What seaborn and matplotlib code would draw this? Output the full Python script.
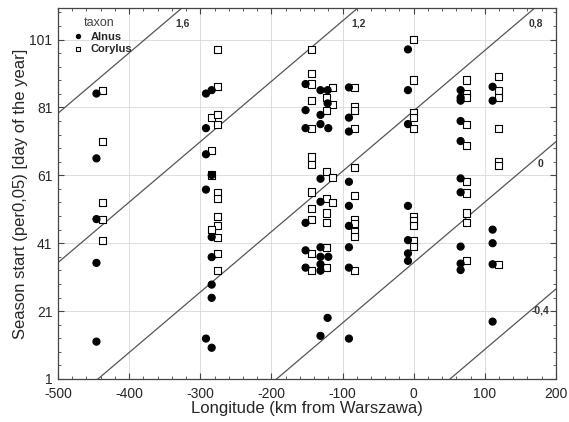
import matplotlib
matplotlib.use('Agg')
import matplotlib.pyplot as plt
from matplotlib.ticker import FixedLocator, AutoMinorLocator
import numpy as np
import pandas as pd
import seaborn as sns

# начало сезона пыления, ольха (Alnus)
alnus_x = [-446, -446, -446, -446, -446,
           -292, -284, -292, -292, -284, -292, -284, -284, -284, -284, -292, -284,
           -152, -131, -121, -121, -152, -131, -131, -120, -152, -131, -131, -152,
           -152, -131, -131, -120, -131, -152, -131, -121, -131,
           -91, -91, -91, -91, -91, -91, -91, -91, -91,
           -8, -8, -8, -8, -8, -8, -8,
           66, 66, 66, 66, 66, 66, 66, 66, 66, 66,
           111, 111, 111, 111, 111, 111]
alnus_y = [85.1, 66.0, 48.1, 35.2, 12.0,
           85.1, 86.1, 74.9, 67.2, 61.1, 56.8, 42.8, 36.9, 28.8, 24.9, 12.9, 10.2,
           87.9, 86.1, 86.1, 82.2, 80.2, 78.8, 76.1, 74.9, 74.9, 60.0, 53.2, 47.0,
           38.9, 39.8, 37.0, 37.0, 34.8, 33.8, 32.9, 19.0, 13.7,
           86.9, 78.0, 73.9, 59.1, 52.0, 46.1, 39.8, 33.8, 12.9,
           98.1, 86.1, 76.1, 52.0, 41.9, 38.0, 35.8,
           86.1, 83.9, 83.0, 77.0, 71.1, 60.1, 56.0, 40.0, 35.0, 33.1,
           87.1, 83.0, 45.0, 41.0, 34.8, 17.9]

# лещина (Corylus)
corylus_x = [-438, -438, -438, -438, -438,
             -276, -276, -284, -276, -276, -284, -284, -276, -276, -276, -276, -284,
             -276, -276, -276,
             -144, -144, -144, -114, -123, -144, -114, -123, -144, -144, -144, -123,
             -114, -144, -123, -114, -144, -123, -144, -123, -144, -123, -123, -144,
             -83, -83, -83, -83, -83, -83, -83, -83, -83, -83, -83,
             0, 0, 0, 0, 0, 0, 0, 0, 0, 0,
             74, 74, 74, 74, 74, 74, 74, 74, 74, 74,
             119, 119, 119, 119, 119, 119, 119]
corylus_y = [86.1, 71.1, 52.9, 47.9, 41.9,
             98.1, 87.1, 78.0, 79.0, 76.1, 68.2, 61.1, 56.0, 54.3, 48.9, 46.1, 45.1,
             42.8, 37.9, 32.9,
             98.1, 91.0, 87.9, 86.9, 83.9, 83.0, 82.0, 80.2, 74.9, 66.4, 64.2, 62.0,
             60.3, 56.1, 54.3, 52.9, 51.2, 49.9, 48.0, 47.0, 38.0, 39.8, 33.8, 32.9,
             86.9, 81.2, 80.0, 74.9, 63.2, 55.1, 48.0, 46.9, 44.3, 43.0, 32.9,
             100.9, 89.1, 79.5, 78.0, 74.9, 48.9, 47.7, 46.3, 41.9, 40.1,
             89.1, 85.1, 83.8, 76.1, 69.9, 59.1, 55.8, 49.9, 47.0, 35.8,
             90.1, 86.1, 83.9, 74.9, 65.2, 64.0, 34.8]

# изолинии: подписи и свободные члены, общий наклон
iso_labels = ['1,6', '1,2', '0,8', '0', '-0,4']
iso_intercepts = [168.3, 124.3, 80.0, 35.3, -8.1]
iso_slope = 0.178

x_ticks = [-500, -400, -300, -200, -100, 0, 100, 200]
y_ticks = [1, 21, 41, 61, 81, 101]

# собираем таблицу (лещину рисуем первой, ольху поверх)
df = pd.DataFrame({
    'lon': corylus_x + alnus_x,
    'start': corylus_y + alnus_y,
    'taxon': ['Corylus'] * len(corylus_x) + ['Alnus'] * len(alnus_x),
})

sns.set_style('ticks')
plt.rcParams['font.family'] = ['Liberation Sans', 'DejaVu Sans']
plt.rcParams['axes.unicode_minus'] = False

fig, ax = plt.subplots(figsize=(5.69, 4.22), dpi=100)
fig.subplots_adjust(left=0.102, right=0.977, top=0.981, bottom=0.102)

xmin, xmax = -500, 200
ymin, ymax = 1, 110.3

# изолинии
xs = np.array([xmin, xmax])
for lab, b in zip(iso_labels, iso_intercepts):
    ax.plot(xs, iso_slope * xs + b, color='#555555', lw=0.9, zorder=2)
    if iso_slope * xmax + b > ymax - 4:
        tx, ty = (105.7 - b) / iso_slope + 27, 105.7
    else:
        tx, ty = 178, iso_slope * 178 + b - 2.5
    ax.text(tx, ty, lab, fontsize=7.5, fontweight='bold', color='#333333',
            ha='center', va='center', zorder=4)

sns.scatterplot(data=df, x='lon', y='start', hue='taxon', style='taxon',
                hue_order=['Alnus', 'Corylus'], style_order=['Alnus', 'Corylus'],
                markers={'Alnus': 'o', 'Corylus': 's'},
                palette={'Alnus': 'black', 'Corylus': 'white'},
                edgecolor='black', linewidth=0.8, s=26, ax=ax, zorder=3)

ax.set_xlim(xmin, xmax)
ax.set_ylim(ymin, ymax)
ax.xaxis.set_major_locator(FixedLocator(x_ticks))
ax.yaxis.set_major_locator(FixedLocator(y_ticks))
ax.xaxis.set_minor_locator(AutoMinorLocator(5))
ax.yaxis.set_minor_locator(AutoMinorLocator(5))
ax.tick_params(which='both', direction='in', top=True, right=True,
               labelsize=10, color='#444444')
ax.tick_params(which='major', length=4)
ax.tick_params(which='minor', length=2)
ax.tick_params(axis='x', pad=6)
ax.tick_params(axis='y', pad=4)
ax.grid(True, which='major', color='#d8d8d8', lw=0.6)
for sp in ax.spines.values():
    sp.set_color('#444444')
    sp.set_linewidth(0.9)

ax.set_xlabel('Longitude (km from Warszawa)', fontsize=12, labelpad=0)
ax.set_ylabel('Season start (per0,05) [day of the year]', fontsize=12, labelpad=1)

leg = ax.legend(title='taxon', loc='upper left', frameon=False, fontsize=8,
                title_fontsize=9, markerscale=0.6, handletextpad=0.1,
                labelspacing=0.25, borderaxespad=0.4)
leg.get_title().set_color('#444444')
for t in leg.get_texts():
    t.set_fontweight('bold')

fig.savefig('out.png', dpi=100)
